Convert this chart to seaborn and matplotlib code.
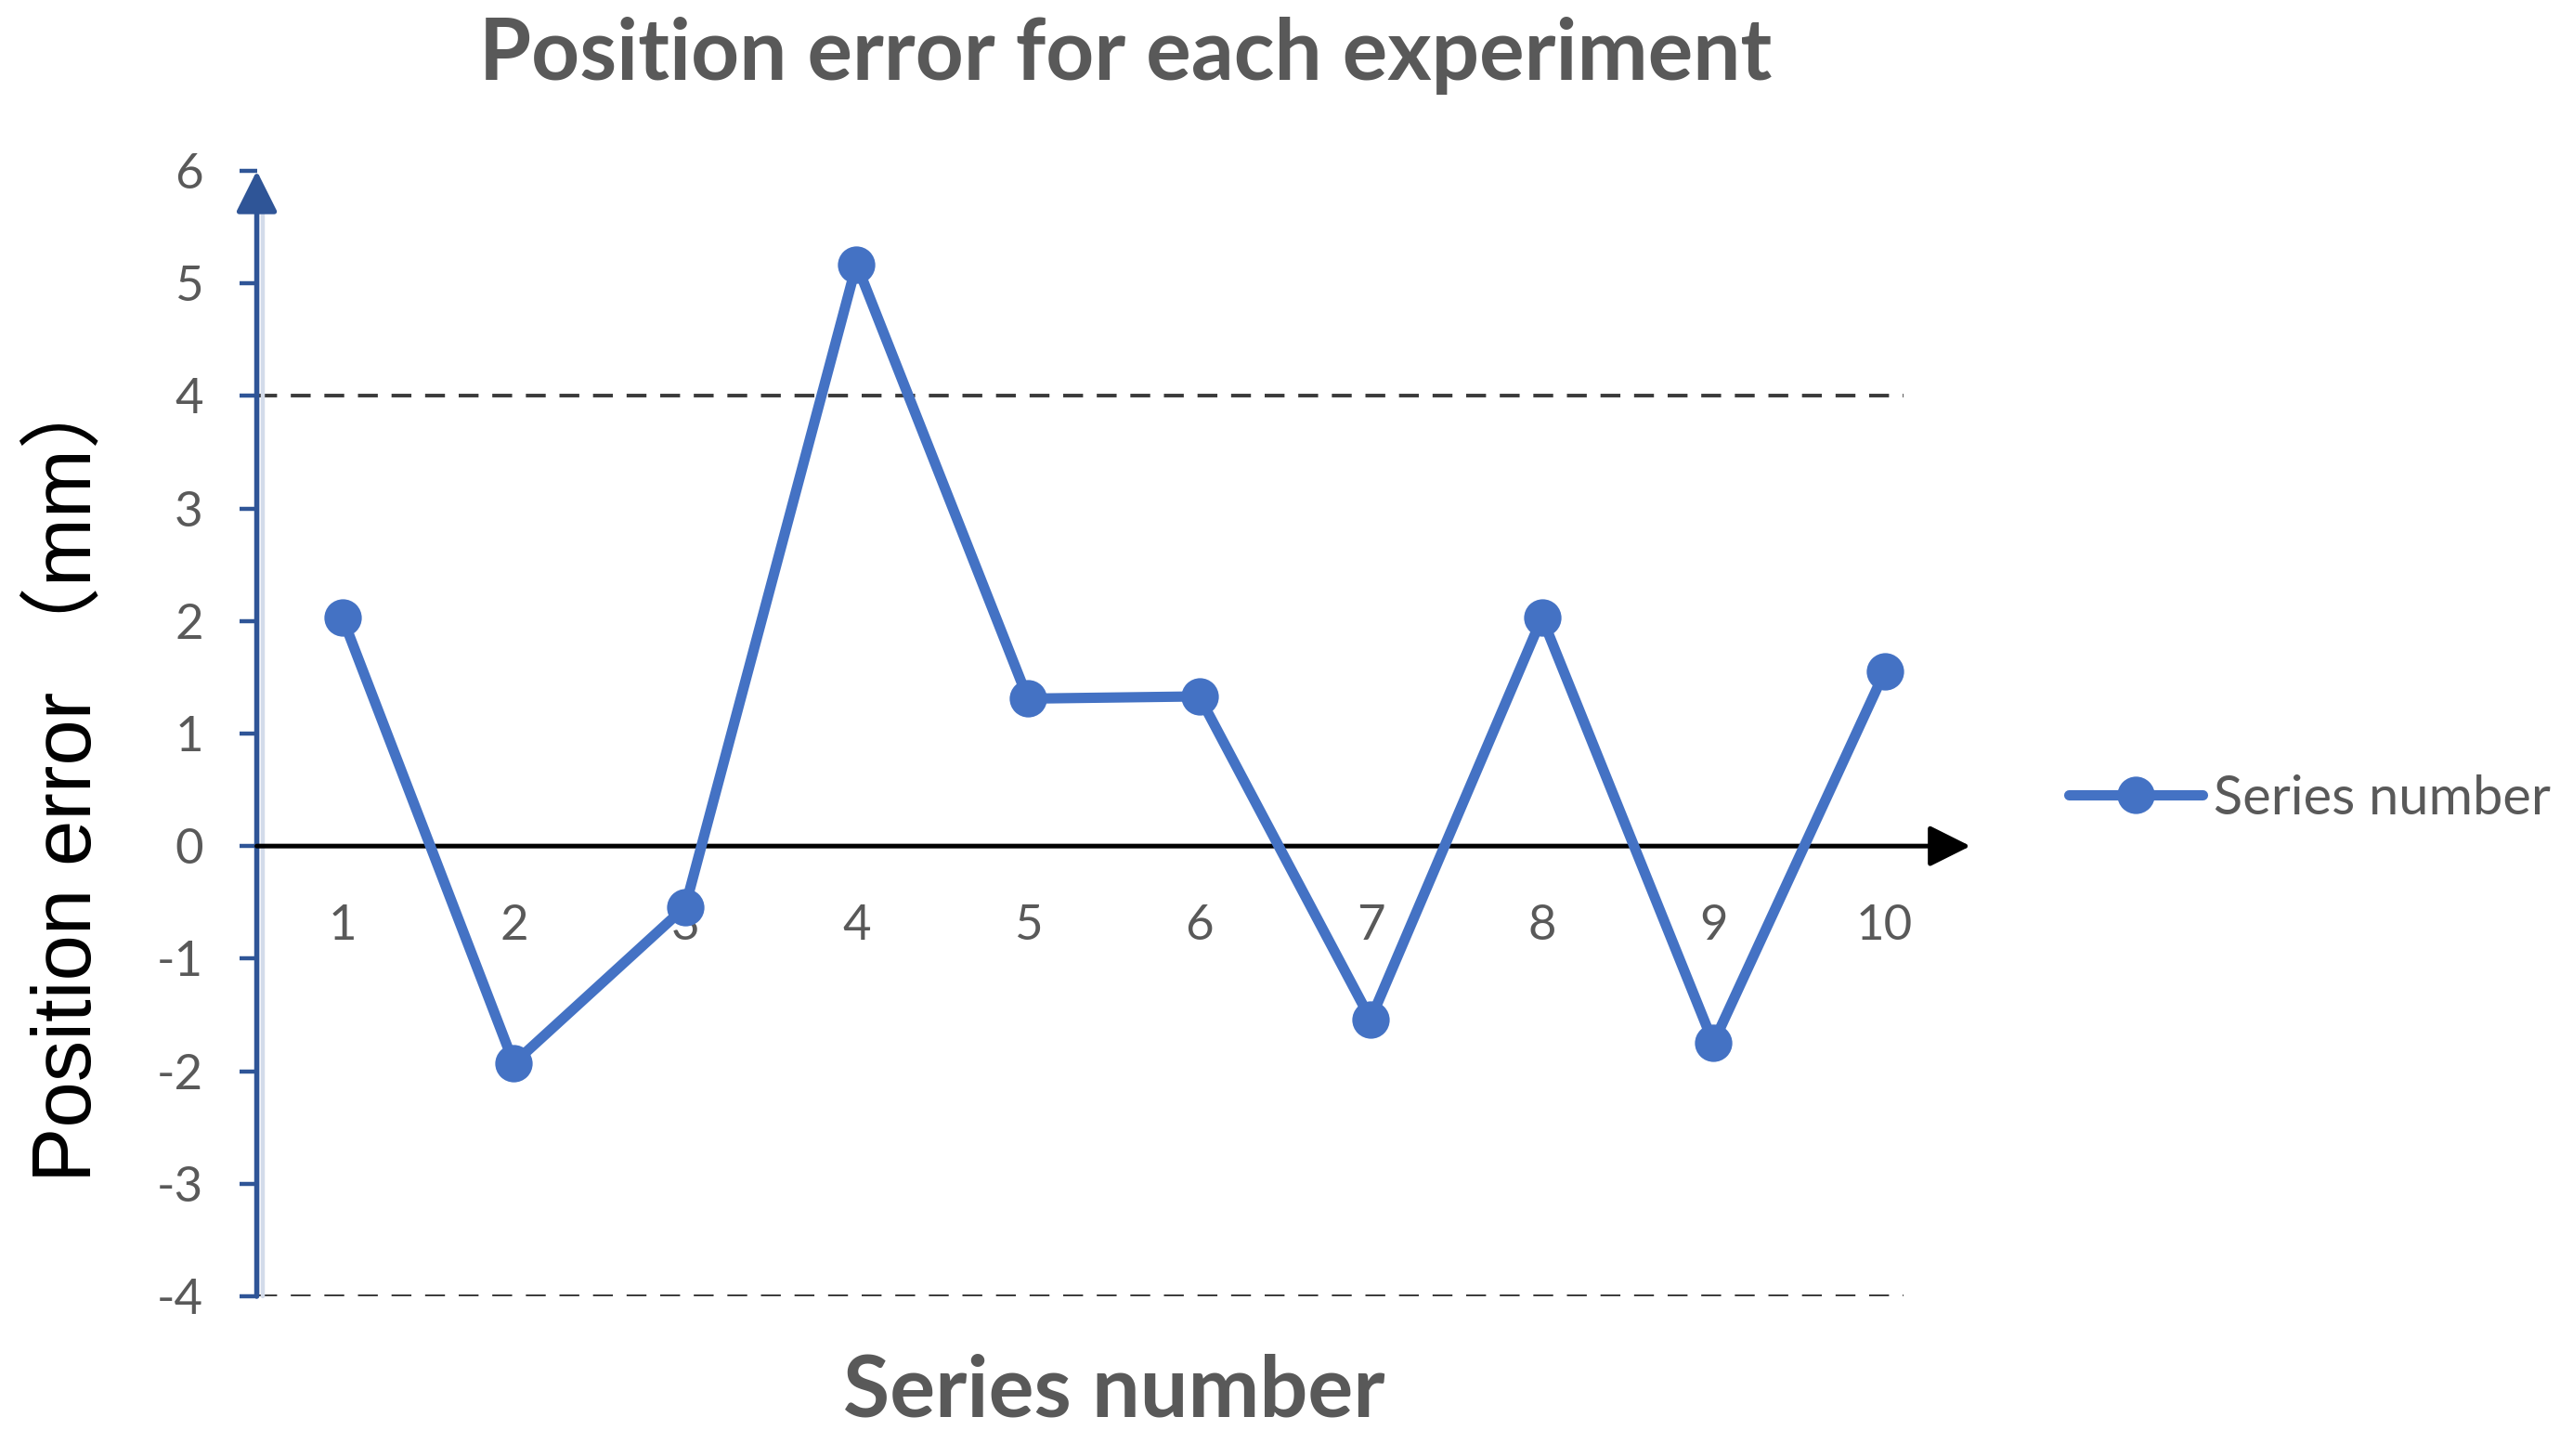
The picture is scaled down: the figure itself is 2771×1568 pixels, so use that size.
import numpy as np
import pandas as pd
import seaborn as sns
import matplotlib.pyplot as plt
import matplotlib.transforms as mtransforms

# values
series = [1, 2, 3, 4, 5, 6, 7, 8, 9, 10]
errors = [2.03, -1.93, -0.54, 5.17, 1.31, 1.33, -1.54, 2.03, -1.75, 1.55]
ytick_values = [-4, -3, -2, -1, 0, 1, 2, 3, 4, 5, 6]
ytick_labels = [str(v) for v in ytick_values]
limit_levels = [4, -4]

line_blue = '#4472C4'
axis_blue = '#2F5597'
grey_text = '#595959'

sns.set_style('white')
plt.rcParams['font.family'] = ['Lato', 'DejaVu Sans']

df = pd.DataFrame({'series': series, 'error': errors})

fig = plt.figure(figsize=(13.855, 7.84), dpi=200)
ax = fig.add_axes([0.0998, 0.1097, 0.666, 0.773])

# dashed limits
for lvl in limit_levels:
    ax.axhline(lvl, xmin=0, xmax=0.961, color='#3a3a3a', lw=1.4,
               linestyle=(0, (5.5, 3.8)), zorder=1)

sns.lineplot(data=df, x='series', y='error', ax=ax, color=line_blue,
             marker='o', markersize=14.5, markeredgewidth=0, linewidth=4,
             label='Series number', zorder=3)

ax.set_xlim(0.5, 10.5)
ax.set_ylim(-4, 6)

# axes drawn as arrows
for s in ['top', 'right', 'left', 'bottom']:
    ax.spines[s].set_visible(False)
ax.spines['bottom'].set_position(('data', 0))

# faint shadow just right of the value axis
shadow = mtransforms.offset_copy(ax.transAxes, fig=fig, x=2.2, y=0, units='points')
ax.plot([0, 0], [0, 0.97], transform=shadow, color='#d3dbea', lw=1.6,
        clip_on=False, zorder=1)
ax.annotate('', xy=(0.5, 6.0), xytext=(0.5, -4), annotation_clip=False,
            arrowprops=dict(arrowstyle='-|>', color=axis_blue, lw=2,
                            mutation_scale=34, shrinkA=0, shrinkB=0), zorder=2)
ax.annotate('', xy=(10.5, 0), xytext=(0.5, 0), annotation_clip=False,
            arrowprops=dict(arrowstyle='-|>', color='black', lw=1.8,
                            mutation_scale=34, shrinkA=0, shrinkB=0), zorder=2)

ax.set_yticks(ytick_values)
ax.set_yticklabels(ytick_labels)
ax.set_xticks(series)
ax.set_xticklabels([str(s) for s in series])
ax.tick_params(axis='y', direction='out', length=6.8, width=1.6, color=axis_blue,
               pad=14, labelsize=19, labelcolor=grey_text, left=True)
ax.tick_params(axis='x', length=0, pad=22.5, labelsize=19, labelcolor=grey_text)

ax.set_xlabel('Series number', fontsize=33, fontweight='bold', color=grey_text,
              va='center')
ax.xaxis.set_label_coords(0.5004, -0.085)
ax.set_ylabel('Position error （mm）', fontsize=32, color='black', va='center',
              family=['Liberation Sans', 'Noto Sans CJK SC'])
ax.yaxis.set_label_coords(-0.1097, 0.464)

fig.suptitle('Position error for each experiment', x=0.4374, y=0.962,
             va='center', fontsize=32.7, fontweight='bold', color=grey_text)

ax.legend(loc='center left', bbox_to_anchor=(0.804, 0.4515),
          bbox_transform=fig.transFigure, frameon=False, fontsize=20.8,
          labelcolor=grey_text, handlelength=2.5, handletextpad=0.2,
          borderpad=0, borderaxespad=0)

fig.savefig('out.png', dpi=200)
